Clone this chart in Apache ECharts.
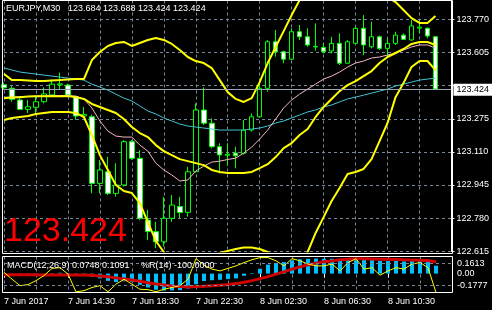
<!DOCTYPE html>
<html><head><meta charset="utf-8">
<script src="https://cdn.jsdelivr.net/npm/echarts@6/dist/echarts.min.js"></script>
<style>html,body{margin:0;padding:0;background:#000}#c{width:492px;height:310px}</style>
</head><body><div id="c"></div><script>
const symbolTitle = 'EURJPY,M30';
const lastPrice = 123.424;
const timeLabels = ['7 Jun 2017','7 Jun 14:30','7 Jun 18:30','7 Jun 22:30','8 Jun 02:30','8 Jun 06:30','8 Jun 10:30'];
const macdScaleLabels = ['0.1613','0.00','-0.1777'];
const priceMin = 122.615, priceStep = 0.165, priceMax = 123.8647;

const opens  = [123.445,123.427,123.369,123.322,123.332,123.360,123.394,123.444,123.443,123.385,123.289,123.285,122.953,123.011,122.903,122.945,123.161,123.078,122.770,122.712,122.662,122.779,122.838,122.809,123.011,123.319,123.253,123.136,123.093,123.104,123.103,123.219,123.285,123.427,123.659,123.609,123.572,123.709,123.684,123.633,123.631,123.613,123.651,123.552,123.651,123.726,123.634,123.684,123.626,123.651,123.692,123.668,123.727,123.726,123.684];
const highs  = [123.455,123.438,123.388,123.369,123.385,123.432,123.472,123.505,123.450,123.390,123.334,123.295,123.070,123.086,123.053,123.169,123.169,123.119,122.820,122.762,122.886,122.895,122.886,123.036,123.352,123.432,123.277,123.153,123.153,123.136,123.269,123.302,123.452,123.668,123.718,123.615,123.726,123.743,123.726,123.751,123.651,123.684,123.701,123.668,123.734,123.792,123.759,123.690,123.676,123.709,123.700,123.767,123.767,123.730,123.688];
const lows   = [123.420,123.360,123.319,123.303,123.303,123.352,123.385,123.422,123.390,123.270,123.279,122.903,122.903,122.895,122.887,122.937,123.070,122.770,122.670,122.630,122.638,122.762,122.779,122.787,123.008,123.244,123.128,123.003,123.040,123.028,123.097,123.211,123.280,123.410,123.585,123.552,123.567,123.668,123.634,123.615,123.601,123.600,123.543,123.552,123.646,123.593,123.626,123.618,123.590,123.643,123.668,123.665,123.700,123.676,123.424];
const closes = [123.430,123.372,123.322,123.335,123.360,123.399,123.448,123.449,123.394,123.289,123.296,122.953,123.020,122.903,122.945,123.161,123.078,122.779,122.713,122.662,122.779,122.845,122.808,123.011,123.319,123.253,123.136,123.095,123.098,123.091,123.219,123.285,123.427,123.659,123.609,123.572,123.709,123.684,123.643,123.636,123.609,123.651,123.552,123.659,123.726,123.643,123.684,123.626,123.651,123.692,123.671,123.738,123.732,123.688,123.424];

const bbUpper  = [123.498,123.468,123.468,123.466,123.463,123.463,123.466,123.468,123.471,123.473,123.473,123.568,123.608,123.638,123.653,123.658,123.638,123.653,123.668,123.678,123.668,123.648,123.618,123.583,123.563,123.553,123.528,123.468,123.408,123.374,123.359,123.378,123.458,123.553,123.633,123.712,123.792,123.867,123.927,123.967,123.997,124.017,124.027,124.017,123.997,123.967,123.937,123.907,123.882,123.857,123.817,123.777,123.753,123.753,123.787];
const bbMiddle = [123.378,123.381,123.383,123.386,123.388,123.388,123.388,123.388,123.388,123.383,123.374,123.349,123.334,123.319,123.304,123.274,123.234,123.204,123.184,123.144,123.114,123.094,123.074,123.064,123.054,123.044,123.020,123.010,123.005,123.005,123.005,123.010,123.029,123.049,123.084,123.129,123.154,123.194,123.224,123.284,123.334,123.374,123.413,123.443,123.463,123.488,123.513,123.553,123.583,123.603,123.623,123.648,123.658,123.658,123.643];
const bbLower  = [123.269,123.279,123.284,123.289,123.299,123.304,123.309,123.309,123.309,123.304,123.284,123.194,123.094,123.020,122.945,122.915,122.905,122.855,122.760,122.666,122.611,122.571,122.546,122.541,122.551,122.571,122.591,122.606,122.616,122.626,122.633,122.633,122.626,122.611,122.581,122.546,122.531,122.561,122.611,122.706,122.785,122.865,122.930,123.000,123.010,123.025,123.074,123.164,123.254,123.383,123.453,123.533,123.563,123.563,123.518];
const maPink   = [123.383,123.383,123.386,123.386,123.388,123.388,123.391,123.391,123.391,123.388,123.374,123.329,123.264,123.214,123.189,123.184,123.184,123.144,123.114,123.054,123.020,122.995,122.965,122.970,123.015,123.039,123.059,123.064,123.072,123.079,123.104,123.134,123.174,123.219,123.274,123.329,123.369,123.398,123.423,123.448,123.473,123.488,123.508,123.533,123.553,123.563,123.578,123.583,123.593,123.603,123.618,123.633,123.643,123.643,123.628];
const maCyan   = [123.528,123.518,123.508,123.503,123.498,123.493,123.488,123.483,123.478,123.473,123.468,123.448,123.433,123.418,123.398,123.378,123.364,123.339,123.314,123.299,123.279,123.264,123.249,123.239,123.234,123.229,123.224,123.219,123.219,123.219,123.219,123.224,123.229,123.239,123.254,123.264,123.279,123.294,123.309,123.319,123.334,123.344,123.359,123.374,123.383,123.393,123.403,123.413,123.423,123.438,123.448,123.458,123.468,123.473,123.478];

const macdMain   = [0.003,-0.012,-0.015,-0.010,-0.006,-0.002,0.004,0.008,0.006,-0.004,-0.012,-0.030,-0.045,-0.068,-0.080,-0.072,-0.078,-0.105,-0.130,-0.152,-0.160,-0.158,-0.155,-0.140,-0.100,-0.070,-0.062,-0.058,-0.052,-0.045,-0.020,0.005,0.045,0.085,0.100,0.108,0.125,0.135,0.140,0.142,0.140,0.140,0.133,0.135,0.138,0.130,0.128,0.120,0.118,0.120,0.115,0.118,0.117,0.110,0.0748];
const macdSignal = [-0.010,-0.010,-0.010,-0.011,-0.011,-0.012,-0.012,-0.012,-0.012,-0.012,-0.013,-0.016,-0.022,-0.030,-0.040,-0.050,-0.060,-0.072,-0.085,-0.097,-0.107,-0.116,-0.122,-0.125,-0.122,-0.119,-0.115,-0.109,-0.103,-0.094,-0.081,-0.066,-0.047,-0.028,-0.005,0.017,0.042,0.064,0.083,0.099,0.111,0.120,0.130,0.136,0.139,0.139,0.138,0.136,0.135,0.133,0.130,0.129,0.127,0.123,0.1091];
const williamsR  = [-44,-63,-81,-78,-67,-53,-33,-31,-49,-98,-95,-86,-81,-98,-77,-63,-77,-91,-92,-98,-91,-86,-81,-63,-6,-24,-35,-40,-33,-26,-17,-9,-3,-3,-12,-26,-6,-12,-21,-26,-26,-21,-40,-17,-6,-35,-31,-52,-40,-31,-35,-21,-17,-31,-100];

const N = 57; // 55 bars + chart shift
const barTimes = [];
for (let i = 0; i < N; i++) {
  const t = 10 * 60 + 30 + i * 30;
  const d = 7 + Math.floor(t / 1440), m = t % 1440;
  barTimes.push(d + ' Jun ' + String(Math.floor(m / 60)).padStart(2, '0') + ':' + String(m % 60).padStart(2, '0'));
}
const candles = opens.map((o, i) => [o, closes[i], lows[i], highs[i]]);
const last = opens.length - 1;
const ohlcTitle = [opens[last], highs[last], lows[last], closes[last]].map(v => v.toFixed(3)).join(' ');
const macdTitle = 'MACD(12,26,9) ' + macdMain[last].toFixed(4) + ' ' + macdSignal[last].toFixed(4);
const wprTitle = '%R(14) ' + williamsR[last].toFixed(4);

const FONT = 'Liberation Sans';
const gridColor = '#778899';
const dash = [3, 3];

const chart = echarts.init(document.getElementById('c'), null, {renderer: 'canvas'});
const lineS = (data, color, width) => ({
  type: 'line', xAxisIndex: 0, yAxisIndex: 0, data, showSymbol: false, symbol: 'none',
  lineStyle: {color, width}, silent: true, clip: true
});
chart.setOption({
  animation: false,
  backgroundColor: '#000',
  grid: [
    {left: 4, right: 40, top: 0.5, bottom: 58.8},
    {left: 4, right: 40, top: 256.5, height: 36}
  ],
  xAxis: [
    {type: 'category', gridIndex: 0, data: barTimes, boundaryGap: false,
     axisLine: {show: false}, axisTick: {show: false}, axisLabel: {show: false},
     splitLine: {show: true, interval: 3, lineStyle: {color: gridColor, type: dash, width: 1}}},
    {type: 'category', gridIndex: 1, data: barTimes, boundaryGap: false,
     axisLine: {show: false},
     axisTick: {show: true, interval: (i) => i % 8 === 0 && i < 56, length: 4, lineStyle: {color: '#fff'}},
     axisLabel: {interval: (i) => i % 8 === 0 && i < 56, color: '#fff', fontSize: 9, fontFamily: FONT, align: 'left', margin: 5,
       formatter: (v, i) => (i % 8 === 0 && timeLabels[i / 8]) ? timeLabels[i / 8] : ''},
     splitLine: {show: true, interval: 3, lineStyle: {color: gridColor, type: dash, width: 1}}}
  ],
  yAxis: [
    {type: 'value', gridIndex: 0, position: 'right', min: priceMin, max: priceMax, interval: priceStep,
     axisLine: {show: true, lineStyle: {color: '#fff'}},
     axisTick: {show: true, length: 3, lineStyle: {color: '#fff'}},
     axisLabel: {color: '#fff', fontSize: 9, fontFamily: FONT, margin: 5, showMaxLabel: false,
       formatter: v => (Math.abs(v - 123.44) < 1e-4 || v > 123.8) ? '' : v.toFixed(3)},
     splitLine: {show: true, lineStyle: {color: gridColor, type: dash, width: 1}}},
    {type: 'value', gridIndex: 1, position: 'right', min: -0.1777, max: 0.1613,
     axisLine: {show: false}, axisTick: {show: false}, splitLine: {show: false},
     axisLabel: {customValues: [0], color: '#fff', fontSize: 9, fontFamily: FONT, margin: 5,
       formatter: v => Math.abs(v) < 1e-9 ? macdScaleLabels[1] : ''}},
    {type: 'value', gridIndex: 1, position: 'right', min: -100, max: 0,
     axisLine: {show: false}, axisTick: {show: false}, splitLine: {show: false},
     axisLabel: {customValues: [-20, -80], color: '#fff', fontSize: 9, fontFamily: FONT, margin: 5,
       formatter: v => v === -20 ? macdScaleLabels[0] : (v === -80 ? macdScaleLabels[2] : '')}}
  ],
  series: [
    {type: 'candlestick', xAxisIndex: 0, yAxisIndex: 0, data: candles, barWidth: 5, silent: true,
     itemStyle: {color: '#000', color0: '#fff', borderColor: '#00ff00', borderColor0: '#00ff00', borderColorDoji: '#00ff00', borderWidth: 1},
     markLine: {symbol: 'none', silent: true, animation: false,
       data: [{yAxis: lastPrice}],
       lineStyle: {color: '#9aa6b2', type: 'solid', width: 1},
       label: {show: true, position: 'end', formatter: lastPrice.toFixed(3), backgroundColor: '#fff', color: '#000',
         fontSize: 9, fontFamily: FONT, padding: [2, 3, 1, 3], distance: 2}}},
    lineS(maCyan, '#3fc3d3', 1),
    lineS(maPink, '#f4b4c2', 1),
    lineS(bbUpper, '#ffff00', 2),
    lineS(bbMiddle, '#ffff00', 2),
    lineS(bbLower, '#ffff00', 2),
    {type: 'bar', xAxisIndex: 1, yAxisIndex: 1, data: macdMain, barWidth: 4, silent: true,
     itemStyle: {color: '#00bfff'}},
    {type: 'line', xAxisIndex: 1, yAxisIndex: 1, data: macdSignal, showSymbol: false, symbol: 'none', silent: true,
     lineStyle: {color: '#d00000', width: 3}},
    {type: 'line', xAxisIndex: 1, yAxisIndex: 2, data: williamsR, showSymbol: false, symbol: 'none', silent: true,
     lineStyle: {color: '#ffff00', width: 1},
     markLine: {symbol: 'none', silent: true, animation: false, label: {show: false},
       lineStyle: {color: gridColor, type: dash, width: 1},
       data: [{yAxis: -20}, {yAxis: -80}]}}
  ],
  graphic: [
    {type: 'rect', z: 100, silent: true, shape: {x: 2.5, y: 0.5, width: 450, height: 253}, style: {fill: null, stroke: '#fff', lineWidth: 1}},
    {type: 'rect', z: 100, silent: true, shape: {x: 2.5, y: 256.5, width: 450, height: 36}, style: {fill: null, stroke: '#fff', lineWidth: 1}},
    {type: 'text', z: 100, silent: true, x: 6, y: 9, style: {text: symbolTitle, fill: '#fff', font: '9px "' + FONT + '"', verticalAlign: 'middle'}},
    {type: 'text', z: 100, silent: true, x: 68, y: 9, style: {text: ohlcTitle, fill: '#fff', font: '9px "' + FONT + '"', verticalAlign: 'middle'}},
    {type: 'text', z: 50, silent: true, x: 4, y: 231.5, style: {text: lastPrice.toFixed(3), fill: '#ff0000', font: '34px "' + FONT + '"', verticalAlign: 'middle'}},
    {type: 'text', z: 100, silent: true, x: 7, y: 266, style: {text: macdTitle, fill: '#fff', font: '9px "' + FONT + '"', verticalAlign: 'middle'}},
    {type: 'text', z: 100, silent: true, x: 141, y: 266, style: {text: wprTitle, fill: '#fff', font: '9px "' + FONT + '"', verticalAlign: 'middle'}}
  ]
});
</script></body></html>
